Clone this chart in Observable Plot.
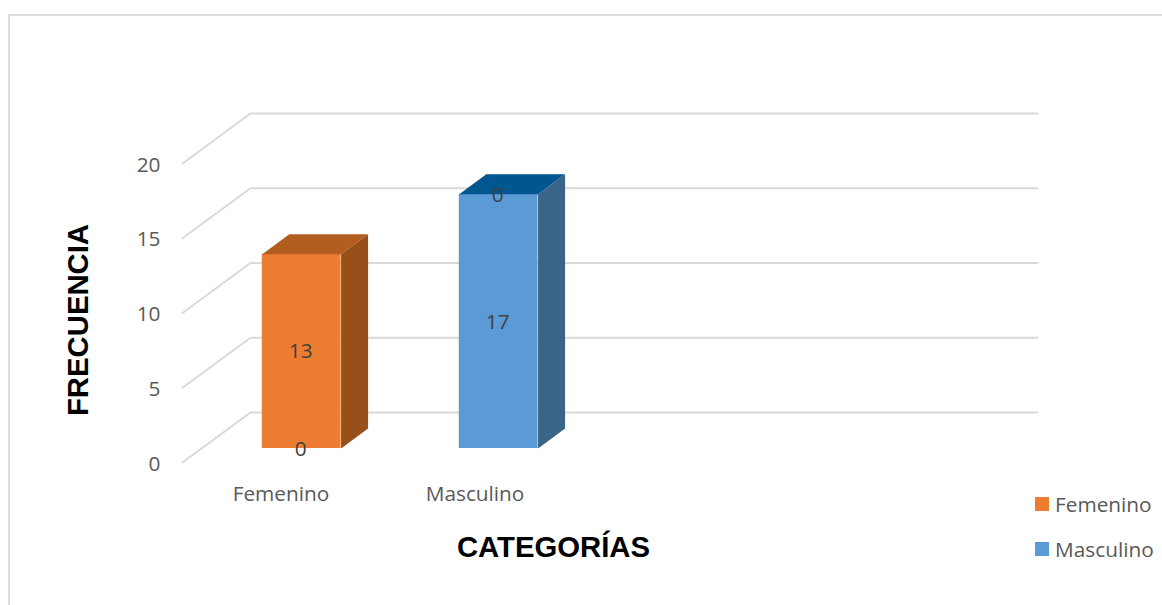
<!DOCTYPE html>
<html><head><meta charset="utf-8">
<script src="https://cdn.jsdelivr.net/npm/d3@7"></script>
<script src="https://cdn.jsdelivr.net/npm/@observablehq/plot@0.6"></script>
<style>
html,body{margin:0;padding:0;background:#fff;overflow:hidden}
#wrap{position:relative;width:1162px;height:605px;font-family:"Open Sans",sans-serif;color:#595959}
#frame{position:absolute;left:8px;top:14px;right:0;bottom:0;border-left:2px solid #dcdcdc;border-top:2px solid #dcdcdc}
#plot{position:absolute;left:0;top:0}
svg{display:block}
.title{position:absolute;font:bold 29.3px "Liberation Sans",sans-serif;color:#000;white-space:nowrap}
#ytitle{left:78px;top:320px;transform:translate(-50%,-50%) rotate(-90deg)}
#xtitle{left:553.5px;top:547px;transform:translate(-50%,-50%)}
.leg{position:absolute;left:1035px;display:flex;align-items:center;font-size:20.8px;line-height:14px;height:14px}
.leg i{display:block;width:14px;height:14px;margin-right:6px}
</style></head><body>
<div id="wrap"><div id="frame"></div><div id="plot"></div>
<div class="title" id="ytitle">FRECUENCIA</div>
<div class="title" id="xtitle">CATEGORÍAS</div>
<div class="leg" style="top:497px"><i style="background:#ED7D31"></i>Femenino</div>
<div class="leg" style="top:542px"><i style="background:#5B9BD5"></i>Masculino</div>
</div>
<script>
const categories = ["Femenino", "Masculino"];
const femenino = [13, 0];
const masculino = [0, 17];
const yTicks = [0, 5, 10, 15, 20];
const catTicks = [0.5, 1.485];
const slots = 4;
// oblique-projection depth, in data units
const wallDX = 0.345, wallDY = 3.345;
const barDX = 0.105, barDY = 0.936;
const sideDX = 0.137, sideDY = 1.338;
const barW = 0.4;
const faces = [
  {front: "#ED7D31", top: "#B35E20", side: "#984F1A"},
  {front: "#5B9BD5", top: "#00568F", side: "#3A6488"}
];

const bars = [], labels = [], polys = [];
categories.forEach((c, i) => {
  const x0 = i + 0.5 + barDX - barW / 2, x1 = x0 + barW;
  let cum = 0;
  [[masculino[i], 1], [femenino[i], 0]].forEach(([v, s]) => {
    if (v > 0) {
      const y0 = cum + barDY, y1 = cum + v + barDY, f = faces[s];
      bars.push({x1: x0, x2: x1, y1: y0, y2: y1, fill: f.front});
      [[x0, y1], [x1, y1], [x1 + sideDX, y1 + sideDY], [x0 + sideDX, y1 + sideDY]]
        .forEach(([x, y]) => polys.push({id: c + "t", x, y, fill: f.top}));
      [[x1, y0], [x1, y1], [x1 + sideDX, y1 + sideDY], [x1 + sideDX, y0 + sideDY]]
        .forEach(([x, y]) => polys.push({id: c + "s", x, y, fill: f.side}));
    }
    labels.push({x: (x0 + x1) / 2, y: cum + v / 2 + barDY, text: String(v)});
    cum += v;
  });
});

const grid = yTicks.flatMap(v => [
  {id: v, x: 0, y: v},
  {id: v, x: wallDX, y: v + wallDY},
  {id: v, x: slots + wallDX - 0.005, y: v + wallDY}
]);

const chart = Plot.plot({
  width: 1162, height: 605,
  marginLeft: 182, marginRight: 192, marginTop: 163, marginBottom: 143,
  style: {fontFamily: '"Open Sans",sans-serif', fontSize: "20.8px", background: "transparent"},
  x: {domain: [0, slots]},
  y: {domain: [0, 20]},
  color: {type: "identity"},
  marks: [
    Plot.line(grid, {x: "x", y: "y", z: "id", stroke: "#d9d9d9", strokeWidth: 2}),
    Plot.rect(bars, {x1: "x1", x2: "x2", y1: "y1", y2: "y2", fill: "fill"}),
    Plot.line(polys, {x: "x", y: "y", z: "id", fill: "fill", stroke: null}),
    Plot.text(labels, {x: "x", y: "y", text: "text", fill: "#404040", fontSize: 20.8, dx: -1, dy: 0.5}),
    Plot.axisY({ticks: yTicks, tickSize: 0, tickPadding: 22, label: null, color: "#595959", fontSize: 20.8, dy: 1.5}),
    Plot.axisX({ticks: catTicks, tickSize: 0, tickPadding: 24, label: null, color: "#595959", fontSize: 20.8,
      tickFormat: d => categories[Math.floor(d)]})
  ]
});
document.getElementById("plot").appendChild(chart);
</script>
</body></html>
